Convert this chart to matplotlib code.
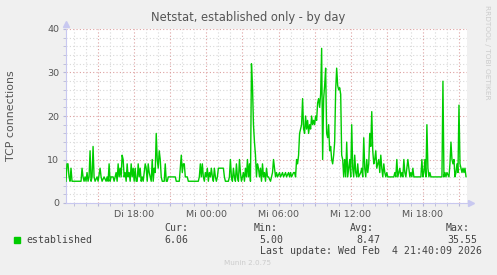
import datetime as dt
import matplotlib
matplotlib.use("Agg")
import matplotlib.pyplot as plt
import matplotlib.dates as mdates
from matplotlib.ticker import MultipleLocator, FuncFormatter

# (minutes from the left edge, connections)
points = [
    (0, 5), (5, 9), (10, 9), (15, 6), (20, 5), (25, 8), (30, 5), (40, 5), (75, 5), (80, 8),
    (85, 6), (90, 5), (95, 6), (100, 5), (105, 7), (110, 5), (115, 6), (120, 12), (125, 5),
    (130, 6), (135, 13), (140, 6), (145, 5), (155, 6), (160, 5), (170, 8), (175, 6), (180, 5),
    (190, 6), (200, 5), (205, 6), (210, 5), (215, 9), (220, 5), (225, 6), (235, 6), (240, 5),
    (250, 7), (255, 5), (260, 9), (265, 6), (270, 8), (275, 6), (280, 11), (285, 10), (290, 6),
    (295, 7), (300, 5), (305, 9), (310, 6), (315, 7), (320, 5), (325, 9), (330, 6), (335, 8),
    (340, 5), (345, 8), (350, 5), (355, 5), (360, 9), (365, 6), (370, 8), (375, 5), (380, 6),
    (385, 5), (395, 9), (400, 8), (405, 5), (410, 9), (415, 7), (420, 6), (425, 5), (430, 10),
    (435, 5), (440, 8), (445, 7), (450, 16), (455, 10), (460, 8), (465, 12), (470, 10),
    (475, 6), (480, 5), (490, 5), (495, 9), (500, 5), (505, 5), (510, 6), (545, 6), (550, 5),
    (565, 5), (570, 8), (575, 11), (580, 7), (585, 9), (590, 9), (595, 6), (605, 6), (610, 5),
    (660, 5), (665, 6), (670, 9), (675, 6), (680, 9), (685, 6), (690, 5), (695, 7), (700, 6),
    (705, 8), (710, 5), (715, 7), (720, 6), (725, 8), (730, 6), (735, 5), (740, 8), (745, 6),
    (750, 5), (755, 6), (760, 8), (785, 8), (790, 6), (795, 5), (810, 5), (815, 6), (820, 10),
    (825, 6), (830, 5), (835, 8), (840, 6), (845, 5), (850, 9), (855, 6), (860, 5), (865, 10),
    (870, 7), (875, 5), (880, 6), (885, 7), (890, 5), (895, 8), (900, 6), (905, 10), (910, 6),
    (915, 9), (920, 5), (925, 32), (930, 27), (935, 18), (940, 14), (945, 11), (950, 6),
    (955, 9), (960, 8), (965, 6), (970, 8), (975, 5), (980, 9), (985, 6), (990, 7), (995, 5),
    (1000, 8), (1005, 6), (1010, 6), (1020, 5), (1025, 6), (1030, 7), (1035, 10), (1040, 8),
    (1045, 6), (1050, 7), (1055, 6), (1065, 7), (1070, 6), (1080, 7), (1085, 6), (1095, 7),
    (1100, 6), (1110, 7), (1115, 6), (1120, 7), (1125, 6), (1135, 7), (1140, 7), (1145, 6),
    (1150, 10), (1155, 9), (1160, 11), (1165, 16), (1170, 17), (1175, 18), (1180, 24),
    (1185, 17), (1190, 16), (1195, 20), (1200, 17), (1205, 19), (1210, 16), (1215, 18),
    (1220, 17), (1225, 20), (1230, 18), (1235, 19), (1240, 18), (1245, 20), (1250, 19),
    (1255, 23), (1260, 24), (1265, 22), (1270, 25), (1275, 35.55), (1280, 10), (1285, 24),
    (1290, 27), (1295, 31), (1300, 16), (1305, 15), (1310, 18), (1315, 12), (1320, 13),
    (1325, 10), (1330, 9), (1335, 11), (1340, 14), (1345, 26), (1350, 31), (1355, 27),
    (1360, 26), (1365, 26.5), (1370, 25), (1375, 11), (1380, 10), (1385, 6), (1390, 10),
    (1395, 6), (1400, 14), (1405, 6), (1410, 8), (1415, 10), (1420, 6), (1425, 18), (1430, 8),
    (1435, 6), (1440, 11), (1445, 7), (1450, 6), (1455, 9), (1460, 6), (1470, 7), (1475, 8),
    (1480, 6), (1485, 15), (1490, 8), (1495, 6), (1500, 10), (1505, 7), (1510, 9), (1515, 16),
    (1520, 13), (1525, 21), (1530, 12), (1535, 9), (1540, 10), (1545, 12), (1550, 8),
    (1555, 9), (1560, 10), (1565, 7), (1570, 11), (1575, 8), (1580, 6), (1585, 9), (1590, 7),
    (1595, 6), (1600, 7), (1605, 6), (1635, 6), (1640, 7), (1645, 6), (1650, 10), (1655, 6),
    (1660, 7), (1665, 8), (1670, 6), (1675, 7), (1680, 6), (1685, 10), (1690, 7), (1695, 6),
    (1700, 8), (1705, 10), (1710, 8), (1715, 6), (1720, 7), (1725, 6), (1730, 8), (1735, 6),
    (1770, 6), (1775, 10), (1780, 6), (1785, 7), (1790, 10), (1795, 6), (1800, 18), (1805, 8),
    (1810, 6), (1815, 7), (1820, 6), (1875, 6), (1880, 28), (1885, 6), (1890, 7), (1895, 6),
    (1900, 7), (1910, 6), (1915, 9), (1920, 14), (1925, 10), (1930, 9), (1935, 10), (1940, 6),
    (1945, 7), (1950, 9), (1955, 7), (1960, 22.5), (1965, 9), (1970, 8), (1975, 7), (1980, 8),
    (1985, 7), (1990, 8), (1995, 6.06),
]

series = "established"
cur, vmin, avg, vmax = "6.06", "5.00", "8.47", "35.55"
last_update = "Last update: Wed Feb  4 21:40:09 2026"
days = {0: "Mo", 1: "Di", 2: "Mi", 3: "Do", 4: "Fr", 5: "Sa", 6: "So"}

end = dt.datetime(2026, 2, 4, 21, 40)
start = end - dt.timedelta(minutes=2000)
times = [start + dt.timedelta(minutes=m) for m, v in points]
vals = [v for m, v in points]

W, H = 497, 275
fig = plt.figure(figsize=(W / 100, H / 100), dpi=100, facecolor="#F0F0F0")
ax = fig.add_axes([66 / W, (H - 203) / H, 401 / W, 174 / H])
ax.set_facecolor("white")

ax.plot(times, vals, color="#00CC00", lw=1.0, zorder=3)
ax.set_xlim(start, end)
ax.set_ylim(0, 40)

ax.yaxis.set_major_locator(MultipleLocator(10))
ax.yaxis.set_minor_locator(MultipleLocator(2))
ax.xaxis.set_major_locator(mdates.HourLocator(byhour=range(0, 24, 3)))
ax.xaxis.set_minor_locator(mdates.HourLocator())


def fmt(x, pos):
    d = mdates.num2date(x)
    if d.hour % 6:
        return ""
    return "%s %02d:00" % (days[d.weekday()], d.hour)


ax.xaxis.set_major_formatter(FuncFormatter(fmt))
ax.grid(which="minor", color="#D8D8D8", ls=(0, (1, 2)), lw=0.8)
ax.grid(which="major", color="#DDA0A0", ls=(0, (1, 2)), lw=0.8)
ax.set_axisbelow(True)

for s in ["top", "right"]:
    ax.spines[s].set_visible(False)
for s in ["left", "bottom"]:
    ax.spines[s].set_color("#C8C8F0")
    ax.spines[s].set_linewidth(0.8)
ax.plot([0], [1.03], marker="^", ms=4, color="#C8C8F0", transform=ax.transAxes, clip_on=False)
ax.plot([1.01], [0], marker=">", ms=4, color="#C8C8F0", transform=ax.transAxes, clip_on=False)

ax.tick_params(which="both", length=2, color="#B8B8D8", labelsize=6.8, labelcolor="#555555", pad=3)

ax.set_ylabel("TCP connections", fontsize=7.9, color="#555555")
ax.yaxis.set_label_coords(-50 / 401, 0.5)
fig.text(248 / W, 1 - 18 / H, "Netstat, established only - by day", ha="center", va="center",
         fontsize=8.3, color="#555555")
fig.text(487 / W, 1 - 5 / H, "RRDTOOL / TOBI OETIKER", rotation=270, ha="center", va="top",
         fontsize=5.3, color="#CCCCCC")

mono = dict(family="DejaVu Sans Mono", fontsize=7.1, color="#444444")
fig.patches.append(plt.Rectangle((14 / W, 1 - 243 / H), 6 / W, 6 / H, color="#00CC00",
                                 transform=fig.transFigure, figure=fig))
fig.text(26 / W, 1 - 240 / H, series, va="center", **mono)
fig.text(188 / W, 1 - 228 / H, "Cur:", va="center", ha="right", **mono)
fig.text(188 / W, 1 - 240 / H, cur, va="center", ha="right", **mono)
fig.text(278 / W, 1 - 228 / H, "Min:", va="center", ha="right", **mono)
fig.text(283 / W, 1 - 240 / H, vmin, va="center", ha="right", **mono)
fig.text(374 / W, 1 - 228 / H, "Avg:", va="center", ha="right", **mono)
fig.text(380 / W, 1 - 240 / H, avg, va="center", ha="right", **mono)
fig.text(470 / W, 1 - 228 / H, "Max:", va="center", ha="right", **mono)
fig.text(477 / W, 1 - 240 / H, vmax, va="center", ha="right", **mono)
fig.text(482 / W, 1 - 251 / H, last_update, va="center", ha="right", **mono)
fig.text(248 / W, 1 - 263 / H, "Munin 2.0.75", va="center", ha="center", fontsize=5.2,
         color="#CCCCCC")

fig.savefig("out.png", dpi=100, facecolor=fig.get_facecolor())
